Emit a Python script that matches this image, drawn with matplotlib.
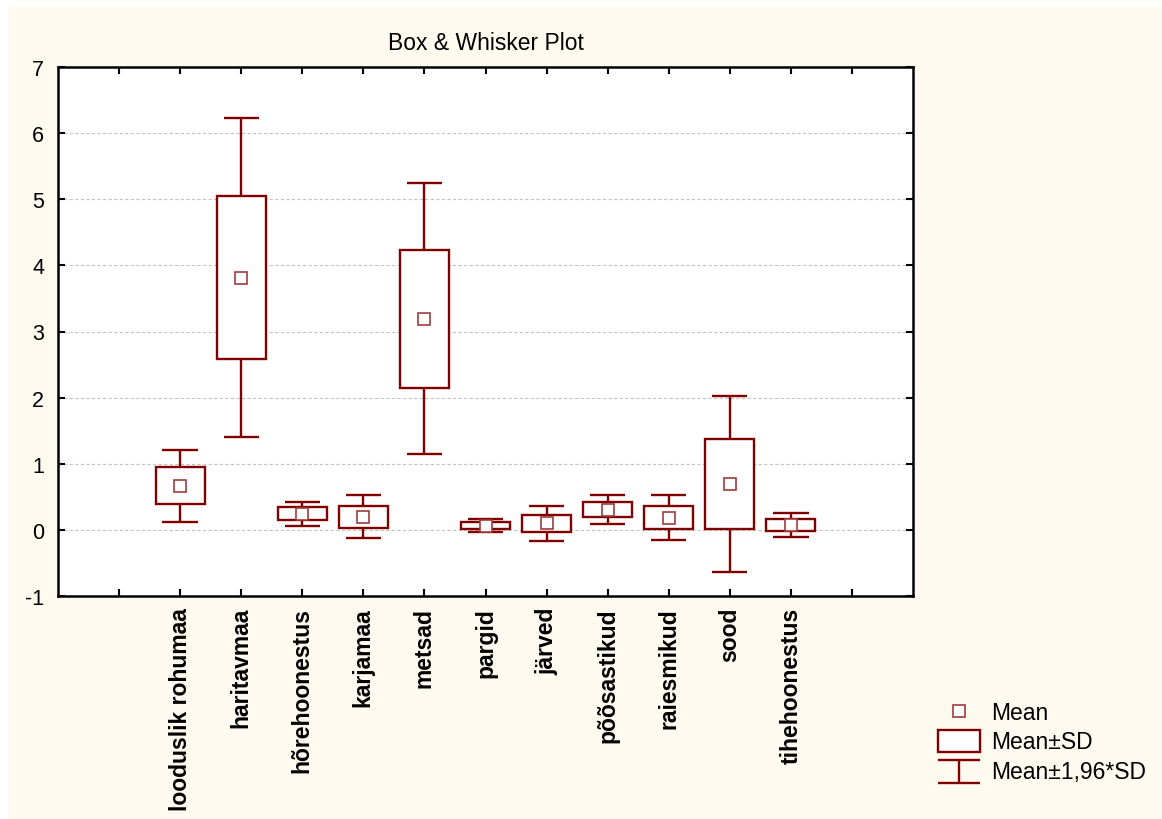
import matplotlib
matplotlib.use("Agg")
import matplotlib.pyplot as plt
from matplotlib.patches import Rectangle

# Land-cover classes and their summary statistics
categories = ["looduslik rohumaa", "haritavmaa", "hõrehoonestus", "karjamaa",
              "metsad", "pargid", "järved", "põõsastikud", "raiesmikud",
              "sood", "tihehoonestus"]
means = [0.67, 3.815, 0.246, 0.20, 3.19, 0.066, 0.097, 0.305, 0.185, 0.696, 0.07]
sds = [0.278, 1.232, 0.093, 0.167, 1.045, 0.052, 0.132, 0.11, 0.175, 0.68, 0.094]
y_ticks = [-1, 0, 1, 2, 3, 4, 5, 6, 7]
legend_labels = ["Mean", "Mean±SD", "Mean±1,96*SD"]

DARK_RED = "#800000"
MEAN_EDGE = "#a03c3c"
CREAM = "#fefaef"
W, H = 1162, 820

plt.rcParams["font.family"] = ["Liberation Sans", "DejaVu Sans"]

fig = plt.figure(figsize=(W / 100, H / 100), dpi=100)
fig.patch.set_facecolor("white")

# cream panel behind everything
bg = fig.add_axes([0, 0, 1, 1], zorder=-10)
bg.set_xlim(0, W)
bg.set_ylim(H, 0)
bg.axis("off")
bg.add_patch(Rectangle((8, 8), W - 8, H - 8, facecolor=CREAM, edgecolor="none"))

left, right, top, bottom = 58, 913, 68, 597
ax = fig.add_axes([left / W, 1 - bottom / H, (right - left) / W, (bottom - top) / H])
ax.set_facecolor("white")

xs = list(range(1, len(categories) + 1))
box_w = 0.80
cap_w = 0.58
lw = 1.7

for x, m, s in zip(xs, means, sds):
    lo_box, hi_box = m - s, m + s
    lo_w, hi_w = m - 1.96 * s, m + 1.96 * s
    ax.add_patch(Rectangle((x - box_w / 2, lo_box), box_w, hi_box - lo_box,
                           facecolor="white", edgecolor=DARK_RED, linewidth=lw, zorder=3))
    ax.plot([x, x], [hi_box, hi_w], color=DARK_RED, lw=lw, zorder=2, solid_capstyle="butt")
    ax.plot([x, x], [lo_box, lo_w], color=DARK_RED, lw=lw, zorder=2, solid_capstyle="butt")
    ax.plot([x - cap_w / 2, x + cap_w / 2], [hi_w, hi_w], color=DARK_RED, lw=lw, zorder=2,
            solid_capstyle="butt")
    ax.plot([x - cap_w / 2, x + cap_w / 2], [lo_w, lo_w], color=DARK_RED, lw=lw, zorder=2,
            solid_capstyle="butt")
    ax.plot([x], [m], marker="s", markersize=8, markerfacecolor="white",
            markeredgecolor=MEAN_EDGE, markeredgewidth=1.2, zorder=4, linestyle="none")

ax.set_xlim(-1, 13)
ax.set_ylim(-1, 7)
ax.set_yticks(y_ticks)
ax.set_yticklabels([str(v) for v in y_ticks], fontsize=15.5)
ax.set_xticks(range(0, 13))
ax.set_xticklabels([""] + categories + [""], rotation=90, fontsize=16.5,
                   fontweight="bold", va="top", ha="center")
ax.tick_params(axis="both", direction="in", length=5, width=1.5, color="black",
               top=True, right=True)
ax.tick_params(axis="x", pad=8)
ax.tick_params(axis="y", pad=10)
ax.grid(axis="y", color="#c4c4c4", linestyle=(0, (3, 2)), linewidth=0.8, zorder=0)
ax.set_axisbelow(True)
for sp in ax.spines.values():
    sp.set_linewidth(1.8)
    sp.set_color("black")

ax.set_title("Box & Whisker Plot", fontsize=16.5, pad=13)

# legend drawn in pixel space
lg = fig.add_axes([0, 0, 1, 1], zorder=5)
lg.set_xlim(0, W)
lg.set_ylim(H, 0)
lg.axis("off")
lg.plot([958.5], [712], marker="s", markersize=8, markerfacecolor="white",
        markeredgecolor=MEAN_EDGE, markeredgewidth=1.2, linestyle="none")
lg.add_patch(Rectangle((938, 731), 42, 22, facecolor="white", edgecolor=DARK_RED, linewidth=lw))
lg.plot([938, 980], [761, 761], color=DARK_RED, lw=lw, solid_capstyle="butt")
lg.plot([938, 980], [784, 784], color=DARK_RED, lw=lw, solid_capstyle="butt")
lg.plot([959, 959], [761, 784], color=DARK_RED, lw=lw, solid_capstyle="butt")
for ty, txt in zip([714, 743, 773], legend_labels):
    lg.text(991, ty, txt, fontsize=16.5, va="center", ha="left")

fig.savefig("out.png", dpi=100, facecolor=fig.get_facecolor())
